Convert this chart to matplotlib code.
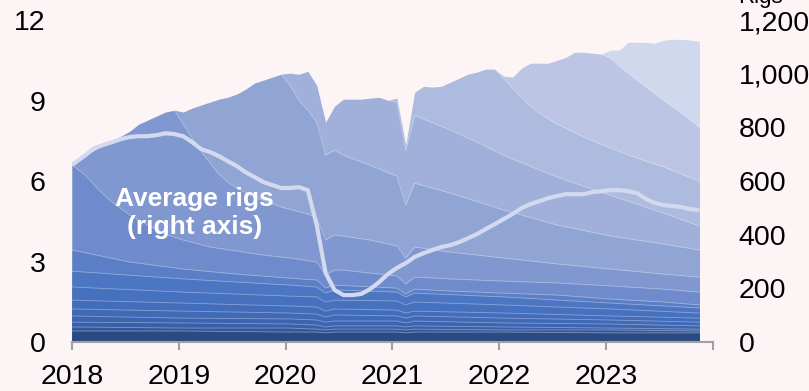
import numpy as np
import matplotlib
matplotlib.use("Agg")
import matplotlib.pyplot as plt
from matplotlib.ticker import FuncFormatter

# monthly data, Jan 2018 - Nov 2023, plotted at mid-month
months = np.arange(71)
years = 2018 + (months + 0.5) / 12
years[0] = 2018.0  # first month drawn from the axis edge, as in the original

# total production (left axis), top edge of the stack
total = [6.70, 6.96, 7.15, 7.34, 7.52, 7.67, 7.86, 8.12, 8.27, 8.42, 8.57, 8.64,
         8.57, 8.72, 8.83, 8.94, 9.05, 9.12, 9.24, 9.42, 9.65, 9.76, 9.87, 9.98,
         10.02, 9.98, 10.09, 9.57, 8.19, 8.79, 9.05, 9.05, 9.05, 9.09, 9.12, 9.01,
         9.09, 7.34, 9.31, 9.53, 9.50, 9.53, 9.68, 9.83, 9.98, 10.06, 10.17, 10.17,
         9.91, 9.87, 10.20, 10.39, 10.39, 10.39, 10.50, 10.61, 10.80, 10.80, 10.76, 10.73,
         10.88, 10.88, 11.17, 11.17, 11.17, 11.14, 11.25, 11.28, 11.28, 11.25, 11.21]

# average rigs (right axis)
rigs = [660, 696, 723, 734, 745, 756, 764, 767, 767, 771, 778, 775,
        767, 745, 719, 708, 693, 674, 656, 633, 615, 596, 585, 574,
        574, 577, 566, 436, 257, 194, 175, 175, 179, 197, 223, 253,
        276, 294, 317, 331, 343, 354, 361, 372, 387, 402, 421, 439,
        458, 477, 499, 514, 525, 536, 544, 551, 551, 551, 559, 562,
        566, 566, 562, 555, 533, 518, 510, 507, 503, 495, 492]

# top of each new vintage after its own year (before that it rides the total)
v2018_m = [12, 13, 14, 15, 16, 17, 18, 20, 23, 26, 27, 28, 29, 30, 33, 36, 37, 38, 42, 48, 54, 60, 66, 70]
v2018 = [8.12, 7.60, 7.11, 6.67, 6.26, 5.96, 5.74, 5.40, 5.03, 4.77, 4.62, 3.80,
         3.99, 3.95, 3.80, 3.58, 3.13, 3.54, 3.35, 3.13, 2.91, 2.72, 2.53, 2.42]
v2019_m = [24, 25, 26, 27, 28, 29, 30, 33, 36, 37, 38, 42, 48, 54, 60, 66, 70]
v2019 = [9.57, 9.01, 8.64, 8.19, 6.96, 7.15, 6.96, 6.59, 6.18, 5.10, 5.92, 5.55,
         4.92, 4.36, 3.95, 3.65, 3.43]
v2020_m = [36, 37, 38, 39, 42, 45, 48, 51, 54, 60, 66, 70]
v2020 = [8.94, 7.15, 8.45, 8.31, 7.90, 7.45, 6.96, 6.55, 6.15, 5.47, 4.80, 4.32]
v2021_m = [48, 49, 50, 51, 52, 54, 57, 60, 63, 66, 70]
v2021 = [9.83, 9.46, 9.12, 8.79, 8.53, 8.12, 7.64, 7.23, 6.85, 6.52, 5.99]
v2022_m = [60, 61, 62, 63, 64, 66, 68, 70]
v2022 = [10.58, 10.28, 10.02, 9.76, 9.50, 9.01, 8.53, 8.01]

# older vintages (cumulative tops)
v2017_m = [0, 1, 2, 3, 4, 6, 8, 10, 12, 15, 18, 21, 24, 27, 28, 29, 30, 33, 36, 37, 38, 42, 48, 54, 60, 66, 70]
v2017 = [6.60, 6.22, 5.85, 5.51, 5.21, 4.73, 4.36, 4.02, 3.80, 3.54, 3.39, 3.24, 3.13,
         2.98, 2.50, 2.68, 2.68, 2.57, 2.46, 2.16, 2.42, 2.35, 2.27, 2.20, 2.09, 1.97, 1.86]
v2016_m = [0, 6, 12, 18, 24, 27, 28, 29, 36, 37, 38, 42, 48, 54, 60, 66, 70]
v2016 = [3.43, 2.98, 2.72, 2.53, 2.38, 2.31, 2.01, 2.12, 2.01, 1.79, 1.97, 1.90,
         1.82, 1.75, 1.60, 1.49, 1.38]
old_m = [0, 12, 24, 27, 28, 29, 36, 37, 38, 48, 60, 70]
v2015 = [2.64, 2.35, 2.12, 2.05, 1.82, 1.94, 1.86, 1.68, 1.82, 1.68, 1.45, 1.27]
v2014 = [2.05, 1.86, 1.71, 1.68, 1.49, 1.56, 1.53, 1.38, 1.49, 1.38, 1.23, 1.08]
v2013 = [1.56, 1.45, 1.34, 1.30, 1.15, 1.23, 1.19, 1.08, 1.15, 1.08, 0.97, 0.89]
v2012 = [1.23, 1.15, 1.08, 1.04, 0.93, 1.01, 0.97, 0.89, 0.97, 0.89, 0.82, 0.74]
v2011 = [0.97, 0.89, 0.86, 0.82, 0.74, 0.78, 0.78, 0.71, 0.78, 0.71, 0.67, 0.60]
v2010 = [0.74, 0.71, 0.67, 0.63, 0.56, 0.60, 0.60, 0.56, 0.60, 0.56, 0.52, 0.48]
v2009 = [0.56, 0.52, 0.52, 0.48, 0.45, 0.48, 0.48, 0.45, 0.48, 0.45, 0.45, 0.41]
v_pre = [0.41, 0.41, 0.37, 0.37, 0.34, 0.37, 0.37, 0.34, 0.37, 0.37, 0.34, 0.34]

year_ticks = [2018, 2019, 2020, 2021, 2022, 2023, 2024]
year_labels = ["2018", "2019", "2020", "2021", "2022", "2023", ""]

BG = "#fdf5f5"


def vintage_top(first, dec_m, dec_v):
    # a new vintage is the top edge during its first year, then declines
    own = list(range(max(first - 1, 0), min(first + 12, len(total))))
    return own + dec_m, [total[i] for i in own] + dec_v, len(own) - 1


def main():
    plt.rcParams["font.family"] = ["Liberation Sans", "DejaVu Sans"]
    fig = plt.figure(figsize=(8.09, 3.91), dpi=100, facecolor=BG)
    ax = fig.add_axes([0.089, 0.1253, 0.792, 0.8235])
    ax.set_facecolor(BG)

    new_vintages = [
        (60, [], [], "#d0d8ed"),
        (48, v2022_m, v2022, "#bcc6e4"),
        (36, v2021_m, v2021, "#adbbdf"),
        (24, v2020_m, v2020, "#a0b0da"),
        (12, v2019_m, v2019, "#91a5d5"),
        (0, v2018_m, v2018, "#8197d0"),
    ]
    old_vintages = [
        (v2017_m, v2017, "#6f8bcb"),
        (v2016_m, v2016, "#5a7fc6"),
        (old_m, v2015, "#4c75c2"),
        (old_m, v2014, "#4671bf"),
        (old_m, v2013, "#436dbb"),
        (old_m, v2012, "#4069b6"),
        (old_m, v2011, "#3d64b0"),
        (old_m, v2010, "#3a5fa8"),
        (old_m, v2009, "#34579a"),
        (old_m, v_pre, "#2b4a81"),
    ]

    # paint from the highest boundary down, each fill from zero
    for first, dm, dv, col in new_vintages:
        m, v, split = vintage_top(first, dm, dv)
        x = years[m]
        ax.fill_between(x, 0, v, color=col, lw=0, zorder=2)
        if dm:
            ax.plot(x[split:], v[split:], color="white", alpha=0.35, lw=0.6, zorder=3)
    for m, v, col in old_vintages:
        x = years[m]
        ax.fill_between(x, 0, v, color=col, lw=0, zorder=2)
        ax.plot(x, v, color="white", alpha=0.35, lw=0.6, zorder=3)

    ax.set_xlim(2018, 2024)
    ax.set_ylim(0, 12)
    ax.set_xticks(year_ticks)
    ax.set_xticklabels(year_labels)
    ax.set_yticks([0, 3, 6, 9, 12])
    for s in ["top", "left", "right"]:
        ax.spines[s].set_visible(False)
    ax.spines["bottom"].set_color("#a0a0a0")
    ax.spines["bottom"].set_linewidth(1.5)
    ax.spines["bottom"].set_zorder(5)
    ax.tick_params(axis="x", direction="out", length=6, width=1.5, color="#a0a0a0",
                   labelsize=20.5, pad=10)
    ax.tick_params(axis="y", length=0, labelsize=20.5, pad=19)

    ax.text(2019.15, 4.8, "Average rigs\n(right axis)", color="white", fontsize=19,
            fontweight="bold", ha="center", va="center", zorder=6)

    ax2 = ax.twinx()
    ax2.plot(years, rigs, color="#d3d9ee", lw=3, solid_capstyle="butt", zorder=4)
    ax2.set_ylim(0, 1200)
    ax2.set_yticks([0, 200, 400, 600, 800, 1000, 1200])
    ax2.yaxis.set_major_formatter(FuncFormatter(lambda v, p: f"{int(v):,}"))
    for s in ["top", "left", "right", "bottom"]:
        ax2.spines[s].set_visible(False)
    ax2.tick_params(axis="y", length=0, labelsize=20.5, pad=18.5)

    fig.text(738 / 809, 1 - 3 / 391, "Rigs", fontsize=16, va="baseline", ha="left")

    fig.savefig("out.png", dpi=100, facecolor=BG)


if __name__ == "__main__":
    main()
